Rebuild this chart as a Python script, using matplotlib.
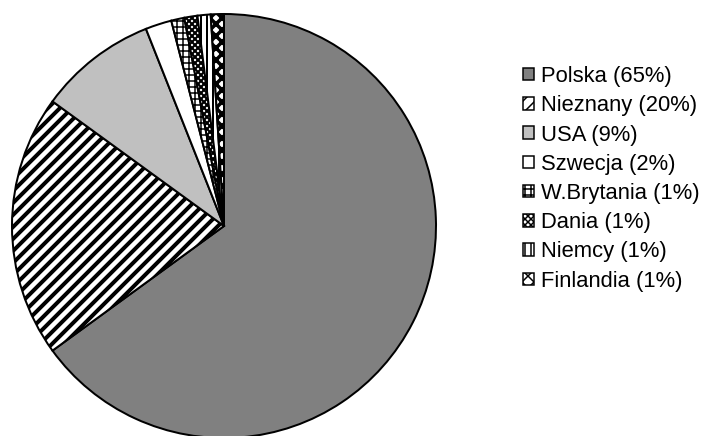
import matplotlib
matplotlib.use("Agg")
import matplotlib.pyplot as plt

countries = ["Polska", "Nieznany", "USA", "Szwecja", "W.Brytania", "Dania", "Niemcy", "Finlandia"]
shares = [65, 20, 9, 2, 1, 1, 1, 1]
labels = [f"{c} ({s}%)" for c, s in zip(countries, shares)]

colors = ["#808080", "white", "#c0c0c0", "white", "white", "white", "white", "white"]
hatches = [None, "//", None, None, "++", "xxxx", "||", "xx"]
hatch_lws = [1, 4, 1, 1, 1.5, 2, 2, 3.5]

plt.rcParams["font.family"] = ["Liberation Sans", "DejaVu Sans"]
plt.rcParams["hatch.linewidth"] = 4

DPI = 72
W, H = 721, 436
fig = plt.figure(figsize=(W / DPI, H / DPI), dpi=DPI)

cx, cy, r = 224, 226, 212
ax = fig.add_axes([(cx - r) / W, (H - cy - r) / H, 2 * r / W, 2 * r / H])
wedges, _ = ax.pie(shares, colors=colors, startangle=90, counterclock=False,
                   radius=1.0,
                   wedgeprops=dict(edgecolor="black", linewidth=2))
for w, h, lw in zip(wedges, hatches, hatch_lws):
    if h:
        w.set_hatch(h)
        if hasattr(w, "set_hatch_linewidth"):
            w.set_hatch_linewidth(lw)
    w.set_clip_on(False)
ax.set_xlim(-1, 1)
ax.set_ylim(-1, 1)
ax.set_aspect("equal")

leg = fig.legend(wedges, labels, loc="upper left",
                 bbox_to_anchor=(523 / W, 1 - 66 / H),
                 frameon=False, fontsize=22, borderpad=0,
                 handlelength=0.5, handleheight=0.5, handletextpad=0.3,
                 labelspacing=0.375, borderaxespad=0)
for p in leg.get_patches():
    p.set_linewidth(1.5)
    if hasattr(p, "set_hatch_linewidth"):
        p.set_hatch_linewidth(1.5)

fig.savefig("out.png", dpi=DPI)
